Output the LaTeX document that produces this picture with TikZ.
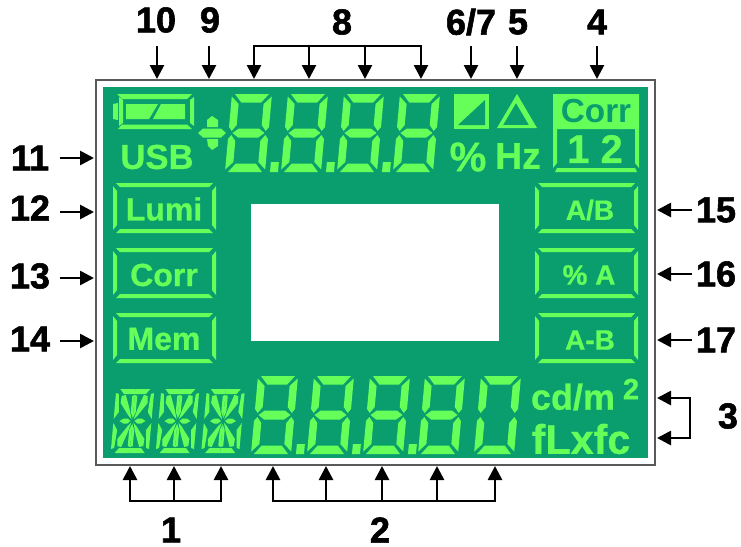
\documentclass[tikz,border=0pt]{standalone}
\usepackage{fontspec}
\usetikzlibrary{arrows.meta}
\newfontfamily\labelfont{Liberation Sans}[BoldFeatures={FakeBold=1.6}]
\newfontfamily\lcdfont{Liberation Sans}[BoldFeatures={FakeBold=0.7}]
\newfontfamily\corrfont{Liberation Sans}
\definecolor{panelgreen}{HTML}{0A9E6E}
\definecolor{lcdgreen}{HTML}{66FF5A}

\newcommand{\lcddigit}[4]{%
  \begin{scope}[shift={(#1,#2)},xslant=0.09]
    \fill[lcdgreen] (3,0) -- (37,0) -- (30,8.5) -- (10,8.5) -- cycle;
    \fill[lcdgreen] (0,2.5) -- (7.5,10) -- (7.5,31) -- (3,37) -- (0,33) -- cycle;
    \fill[lcdgreen] (40,2.5) -- (32.5,10) -- (32.5,31) -- (37,37) -- (40,33) -- cycle;
    \fill[lcdgreen] (0,45) -- (3,41) -- (7.5,47) -- (7.5,68) -- (0,75.5) -- cycle;
    \fill[lcdgreen] (40,45) -- (37,41) -- (32.5,47) -- (32.5,68) -- (40,75.5) -- cycle;
    \fill[lcdgreen] (3,78) -- (37,78) -- (30,69.5) -- (10,69.5) -- cycle;
    \ifnum#3=1 \fill[lcdgreen] (4,39) -- (10,34.5) -- (30,34.5) -- (36,39) -- (30,43.5) -- (10,43.5) -- cycle; \fi
    \ifnum#4=1 \fill[lcdgreen] (45,68) -- (53,68) -- (53,78) -- (45,78) -- cycle; \fi
  \end{scope}}

\newcommand{\lcdalpha}[2]{%
  \begin{scope}[shift={(#1,#2)},xslant=0.09]
    \foreach \sx/\sy in {1/1,-1/1,1/-1,-1/-1} {
      \begin{scope}[xscale=\sx,yscale=\sy]
        \fill[lcdgreen] (-15,-32) -- (0,-32) -- (0,-27) -- (-11,-27) -- cycle;
        \fill[lcdgreen] (-19,-28) -- (-16,-27) -- (-14.5,-9) -- (-19,-2) -- cycle;
        \fill[lcdgreen] (-2.5,-25) -- (0,-26) -- (0,-3) -- (-2.5,-9) -- cycle;
        \fill[lcdgreen] (-13,-25) -- (-9,-26) -- (-4,-12) -- (-1,-1.5) -- (-5,-6) -- (-13.5,-18) -- cycle;
        \fill[lcdgreen] (-13,0) -- (-9,-2.5) -- (-5,-2.5) -- (-2,0) -- cycle;
      \end{scope}
    }
  \end{scope}}

\newcommand{\lcdbutton}[2]{%
  \begin{scope}[shift={(#1,#2)}]
    \fill[lcdgreen] (3,0) -- (100,0) -- (96,4) -- (7,4) -- cycle;
    \fill[lcdgreen] (3,50) -- (100,50) -- (96,46) -- (7,46) -- cycle;
    \fill[lcdgreen] (0,3) -- (4,8) -- (4,42) -- (0,47) -- cycle;
    \fill[lcdgreen] (103,3) -- (99,8) -- (99,42) -- (103,47) -- cycle;
  \end{scope}}

\begin{document}
\begin{tikzpicture}[x=0.75pt,y=-0.75pt,>={Triangle[width=10.5pt,length=10.5pt]},
    num node/.style={font=\labelfont\bfseries\fontsize{27}{27}\selectfont,inner sep=0pt},
    lcd node/.style={font=\lcdfont\bfseries\fontsize{24}{24}\selectfont,text=lcdgreen,inner sep=0pt},
    arrow line/.style={line width=2pt}]
  \useasboundingbox (0,0) rectangle (741,546);
  \draw[line width=1.2pt,color=black!65,fill=white] (96,80) rectangle (655,465);
  \fill[panelgreen] (103,87) rectangle (648,458);
  \fill[white] (251,204) rectangle (499,341);

  % top row of the panel
  \fill[lcdgreen] (117,94) -- (192,94) -- (187,99) -- (122,99) -- cycle;
  \fill[lcdgreen] (118,129) -- (192,129) -- (187,124.5) -- (122,124.5) -- cycle;
  \fill[lcdgreen] (119,97) -- (123,100) -- (123,123) -- (119,126) -- cycle;
  \fill[lcdgreen] (194,97) -- (190,100) -- (190,123) -- (194,126) -- cycle;
  \fill[lcdgreen] (113,104) -- (118,103) -- (118,120) -- (113,119) -- cycle;
  \fill[lcdgreen] (126,104) -- (158,104) -- (149,119) -- (126,119) -- cycle;
  \fill[lcdgreen] (161,104) -- (185,104) -- (185,119) -- (153,119) -- cycle;
  \node[lcd node,font=\lcdfont\bfseries\fontsize{26}{26}\selectfont] (usb) at (157,157) {USB};

  \fill[lcdgreen] (198,133) -- (203,128.5) -- (221,128.5) -- (226,133) -- (221,137.5) -- (203,137.5) -- cycle;
  \fill[lcdgreen] (207,120) -- (212,116) -- (218,120) -- (218,127) -- (207,127) -- cycle;
  \fill[lcdgreen] (207,139) -- (218,139) -- (218,146) -- (212,150) -- (208,146) -- cycle;

  \lcddigit{232}{94}{1}{1}
  \lcddigit{288}{94}{1}{1}
  \lcddigit{344}{94}{1}{1}
  \lcddigit{400}{94}{1}{0}

  \fill[lcdgreen] (454,94) rectangle (489,129);
  \fill[panelgreen] (458,125) -- (485,125) -- (485,100) -- cycle;
  \fill[lcdgreen,even odd rule] (497,128) -- (537,128) -- (517,94) -- cycle (503,125) -- (529,125) -- (516,103) -- cycle;
  \node[lcd node,font=\lcdfont\bfseries\fontsize{31}{31}\selectfont] (pct) at (468,157) {\%};
  \node[lcd node,font=\lcdfont\bfseries\fontsize{28}{28}\selectfont] (hz) at (518,156) {Hz};

  \fill[lcdgreen] (553,94) -- (639,94) -- (639,168) -- (635,163) -- (635,129) -- (557,129) -- (557,163) -- (553,168) -- cycle;
  \fill[lcdgreen] (557,168) -- (635,168) -- (637,172) -- (555,172) -- cycle;
  \node[lcd node,font=\corrfont\bfseries\fontsize{25}{25}\selectfont,text=panelgreen] (corrtop) at (596,111) {Corr};
  \node[lcd node,font=\lcdfont\bfseries\fontsize{30}{30}\selectfont] (corrnum) at (595,149) {1 2};

  % buttons
  \lcdbutton{113}{183}
  \lcdbutton{113}{248}
  \lcdbutton{113}{313}
  \lcdbutton{535}{183}
  \lcdbutton{535}{248}
  \lcdbutton{535}{313}
  \node[lcd node] (lumi) at (164,209) {Lumi};
  \node[lcd node] (corr) at (164,275) {Corr};
  \node[lcd node] (mem) at (164,339) {Mem};
  \node[lcd node,font=\lcdfont\bfseries\fontsize{21}{21}\selectfont] (ab) at (590,210) {A/B};
  \node[lcd node,font=\lcdfont\bfseries\fontsize{21}{21}\selectfont] (pa) at (589,275) {\% A};
  \node[lcd node,font=\lcdfont\bfseries\fontsize{21}{21}\selectfont] (amb) at (590,340) {A-B};

  % bottom row of the panel
  \lcdalpha{132.5}{421}
  \lcdalpha{177.5}{421}
  \lcdalpha{223}{421}
  \lcddigit{258}{376}{1}{1}
  \lcddigit{314}{376}{1}{1}
  \lcddigit{370}{376}{1}{1}
  \lcddigit{425}{376}{1}{0}
  \lcddigit{481}{376}{0}{0}
  \node[lcd node,font=\lcdfont\bfseries\fontsize{27}{27}\selectfont] (cdm) at (573,397) {cd/m};
  \node[lcd node,font=\lcdfont\bfseries\fontsize{22}{22}\selectfont] (two) at (631,389) {2};
  \node[lcd node,font=\lcdfont\bfseries\fontsize{31}{31}\selectfont] (flx) at (581,439) {fLxfc};

  % numbers round the panel
  \node[num node] (n10) at (156,20) {10};
  \node[num node] (n9) at (210,20) {9};
  \node[num node] (n8) at (342,22) {8};
  \node[num node] (n67) at (471,22) {6/7};
  \node[num node] (n5) at (518,22) {5};
  \node[num node] (n4) at (597,22) {4};
  \node[num node] (n11) at (30,158) {11};
  \node[num node] (n12) at (30,208) {12};
  \node[num node] (n13) at (30,276) {13};
  \node[num node] (n14) at (30,339) {14};
  \node[num node] (n15) at (716,210) {15};
  \node[num node] (n16) at (716,274) {16};
  \node[num node] (n17) at (716,340) {17};
  \node[num node] (n3) at (728,416) {3};
  \node[num node] (n1) at (171,530) {1};
  \node[num node] (n2) at (380,530) {2};

  \coordinate (f10) at (157,46); \coordinate (t10) at (157,79);
  \coordinate (f9) at (209,46); \coordinate (t9) at (209,79);
  \coordinate (f8a) at (254,46); \coordinate (t8a) at (254,79);
  \coordinate (f8b) at (309,46); \coordinate (t8b) at (309,79);
  \coordinate (f8c) at (365,46); \coordinate (t8c) at (365,79);
  \coordinate (f8d) at (421,46); \coordinate (t8d) at (421,79);
  \coordinate (f67) at (471,46); \coordinate (t67) at (471,79);
  \coordinate (f5) at (517,46); \coordinate (t5) at (517,79);
  \coordinate (f4) at (597,46); \coordinate (t4) at (597,79);
  \coordinate (f11) at (60,158); \coordinate (t11) at (94,158);
  \coordinate (f12) at (60,212); \coordinate (t12) at (94,212);
  \coordinate (f13) at (60,278); \coordinate (t13) at (94,278);
  \coordinate (f14) at (60,341); \coordinate (t14) at (94,341);
  \coordinate (f15) at (692,210); \coordinate (t15) at (657,210);
  \coordinate (f16) at (692,274); \coordinate (t16) at (657,274);
  \coordinate (f17) at (692,340); \coordinate (t17) at (657,340);
  \coordinate (f3a) at (690,398); \coordinate (t3a) at (657,398);
  \coordinate (f3b) at (690,438); \coordinate (t3b) at (657,438);
  \coordinate (f1a) at (130,501); \coordinate (t1a) at (130,466);
  \coordinate (f1b) at (174,501); \coordinate (t1b) at (174,466);
  \coordinate (f1c) at (221,501); \coordinate (t1c) at (221,466);
  \coordinate (f2a) at (273,501); \coordinate (t2a) at (273,466);
  \coordinate (f2b) at (326,501); \coordinate (t2b) at (326,466);
  \coordinate (f2c) at (382,501); \coordinate (t2c) at (382,466);
  \coordinate (f2d) at (437,501); \coordinate (t2d) at (437,466);
  \coordinate (f2e) at (495,501); \coordinate (t2e) at (495,466);

  \path[->,arrow line] (f10) edge (t10);
  \path[->,arrow line] (f9) edge (t9);
  \path[->,arrow line] (f8a) edge (t8a);
  \path[->,arrow line] (f8b) edge (t8b);
  \path[->,arrow line] (f8c) edge (t8c);
  \path[->,arrow line] (f8d) edge (t8d);
  \path[-,arrow line,line cap=rect] (f8a) edge (f8d);
  \path[->,arrow line] (f67) edge (t67);
  \path[->,arrow line] (f5) edge (t5);
  \path[->,arrow line] (f4) edge (t4);
  \path[->,arrow line] (f11) edge (t11);
  \path[->,arrow line] (f12) edge (t12);
  \path[->,arrow line] (f13) edge (t13);
  \path[->,arrow line] (f14) edge (t14);
  \path[->,arrow line] (f15) edge (t15);
  \path[->,arrow line] (f16) edge (t16);
  \path[->,arrow line] (f17) edge (t17);
  \path[->,arrow line] (f3a) edge (t3a);
  \path[->,arrow line] (f3b) edge (t3b);
  \path[-,arrow line,line cap=rect] (f3a) edge (f3b);
  \path[->,arrow line] (f1a) edge (t1a);
  \path[->,arrow line] (f1b) edge (t1b);
  \path[->,arrow line] (f1c) edge (t1c);
  \path[-,arrow line,line cap=rect] (f1a) edge (f1c);
  \path[->,arrow line] (f2a) edge (t2a);
  \path[->,arrow line] (f2b) edge (t2b);
  \path[->,arrow line] (f2c) edge (t2c);
  \path[->,arrow line] (f2d) edge (t2d);
  \path[->,arrow line] (f2e) edge (t2e);
  \path[-,arrow line,line cap=rect] (f2a) edge (f2e);
\end{tikzpicture}
\end{document}
